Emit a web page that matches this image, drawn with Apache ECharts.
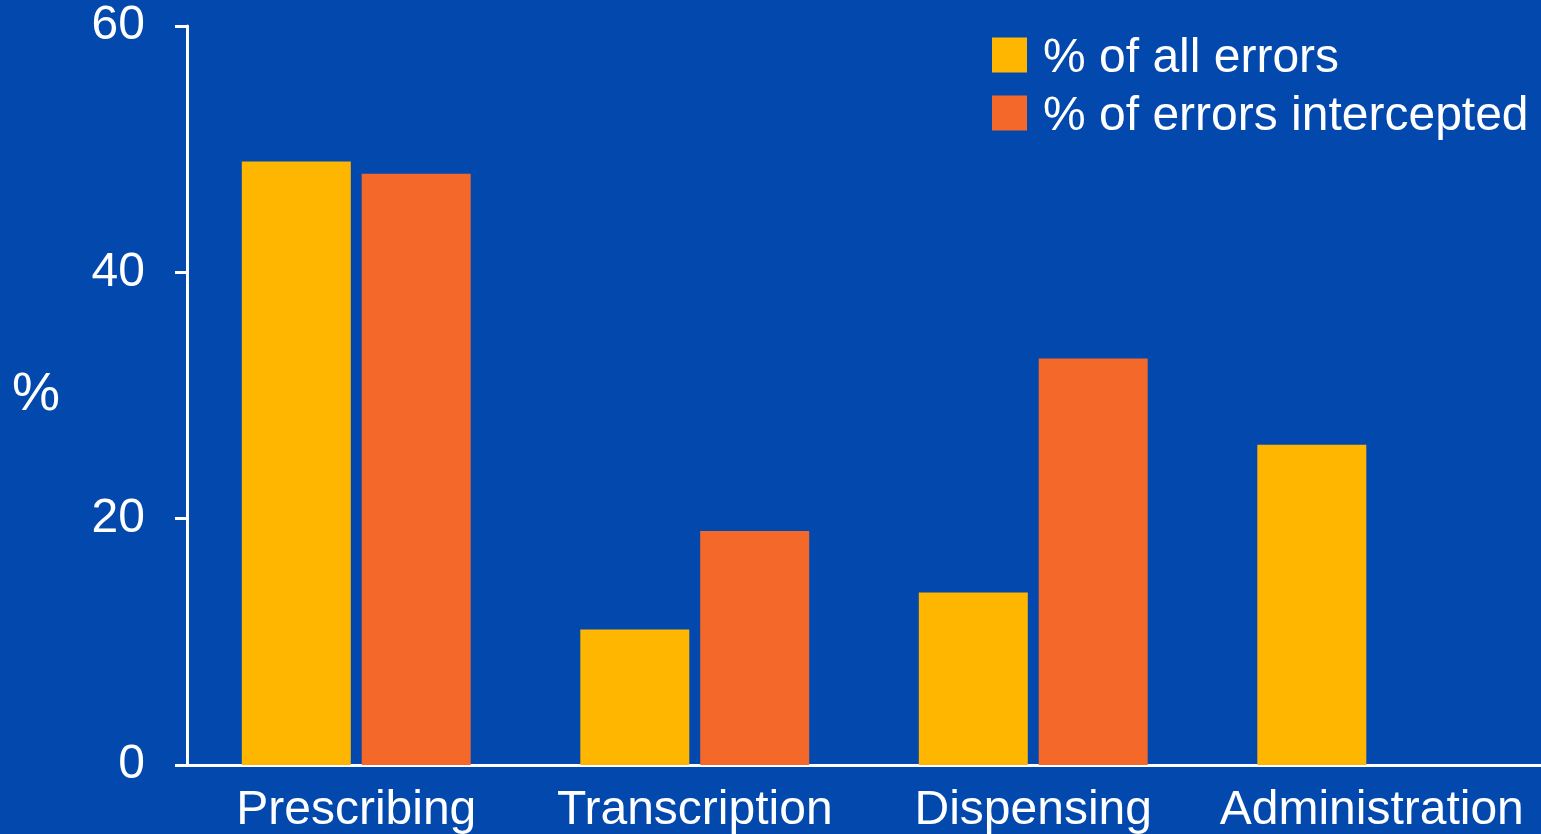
<!DOCTYPE html>
<html>
<head>
<meta charset="utf-8">
<script src="https://cdn.jsdelivr.net/npm/echarts@6/dist/echarts.min.js"></script>
<style>
html,body{margin:0;padding:0;background:#0248AD;}
#chart{width:1541px;height:834px;}
</style>
</head>
<body>
<div id="chart"></div>
<script>
var categories = ['Prescribing', 'Transcription', 'Dispensing', 'Administration'];
var allErrors = [49, 11, 14, 26];
var intercepted = [48, 19, 33, null];
var seriesNames = ['% of all errors', '% of errors intercepted'];
var yTicks = [0, 20, 40, 60];

var font = '"Liberation Sans", Arial, sans-serif';
var chart = echarts.init(document.getElementById('chart'));
chart.setOption({
  backgroundColor: '#0248AD',
  animation: false,
  textStyle: { fontFamily: font, color: '#fff' },
  legend: {
    orient: 'vertical',
    left: 992, top: 35,
    padding: 0,
    itemWidth: 35, itemHeight: 35, itemGap: 10,
    icon: 'rect',
    formatter: function (name) { return '{t|' + name + '}'; },
    textStyle: {
      color: '#fff', fontSize: 48, fontFamily: font, padding: [0, 0, 0, 11],
      rich: { t: { color: '#fff', fontSize: 48, fontFamily: font, padding: [8, 0, 0, 0] } }
    },
    data: seriesNames
  },
  grid: { left: 187, right: 0, top: 26, bottom: 69, containLabel: false, outerBoundsMode: 'none' },
  xAxis: {
    type: 'category',
    data: categories,
    axisLine: { lineStyle: { color: '#fff', width: 3 } },
    axisTick: { show: false },
    axisLabel: { color: '#fff', fontSize: 48, fontFamily: font, margin: 22, interval: 0 }
  },
  yAxis: {
    type: 'value',
    min: yTicks[0], max: yTicks[yTicks.length - 1], interval: 20,
    name: '%',
    nameLocation: 'middle',
    nameRotate: 0,
    nameGap: 127,
    nameTextStyle: { color: '#fff', fontSize: 54, fontFamily: font },
    axisLine: { show: true, lineStyle: { color: '#fff', width: 3 } },
    axisTick: { show: true, length: 12, lineStyle: { color: '#fff', width: 3 } },
    splitLine: { show: false },
    axisLabel: { color: '#fff', fontSize: 48, fontFamily: font, margin: 42 }
  },
  series: [
    { name: seriesNames[0], type: 'bar', data: allErrors, barWidth: 109, barGap: '10%', itemStyle: { color: '#FFB600' } },
    { name: seriesNames[1], type: 'bar', data: intercepted, barWidth: 109, itemStyle: { color: '#F4692A' } }
  ]
});
</script>
</body>
</html>
